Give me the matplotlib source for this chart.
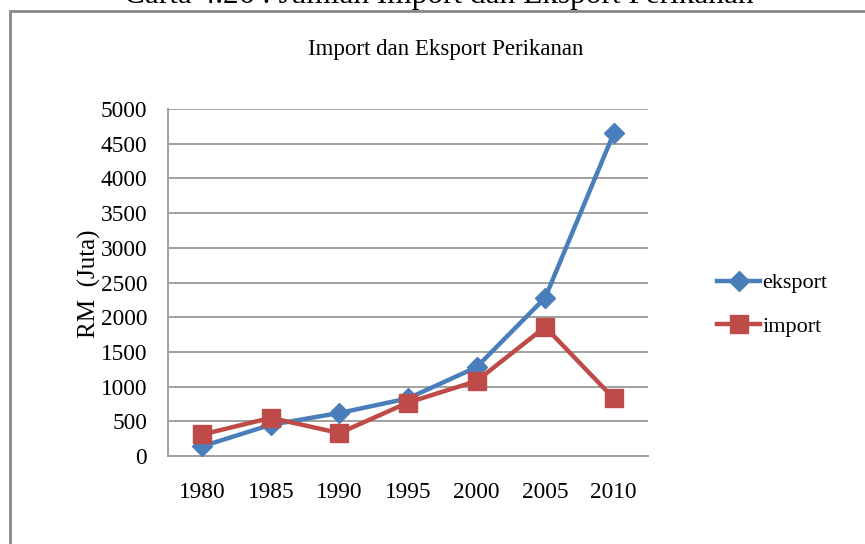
import matplotlib
matplotlib.use("Agg")
import matplotlib.pyplot as plt
from matplotlib.patches import Rectangle

years = ["1980", "1985", "1990", "1995", "2000", "2005", "2010"]
eksport = [140, 450, 620, 830, 1280, 2280, 4650]
import_ = [310, 550, 330, 770, 1080, 1860, 830]
yticks = [0, 500, 1000, 1500, 2000, 2500, 3000, 3500, 4000, 4500, 5000]

plt.rcParams['font.family'] = ['Liberation Serif', 'DejaVu Serif']

W, H = 865, 544
fig = plt.figure(figsize=(W / 100, H / 100), dpi=100)
fig.patch.set_facecolor('white')

# outer frame
fig.patches.append(Rectangle((10 / W, -0.2), 1.5, 1.2 - 11 / H,
                             transform=fig.transFigure, fill=False,
                             edgecolor='#888888', linewidth=2.0))

# cut-off caption at the very top
fig.text(439 / W, 1 - 3 / H, "Carta 4.26 : Jumlah Import dan Eksport Perikanan",
         ha='center', va='baseline', fontsize=22.5, color='black')

ax = fig.add_axes([168 / W, 1 - 456 / H, (648 - 168) / W, (456 - 109) / H])
x = list(range(len(years)))
ax.plot(x, eksport, color='#4A7EBB', linewidth=3.2, marker='D',
        markersize=10, label='eksport', zorder=3)
ax.plot(x, import_, color='#BE4B48', linewidth=3.2, marker='s',
        markersize=12.5, label='import', zorder=4)

ax.set_xlim(-0.5, len(years) - 0.5)
ax.set_ylim(0, 5000)
ax.set_yticks(yticks)
ax.set_yticklabels([str(v) for v in yticks])
ax.set_xticks(x)
ax.set_xticklabels(years)
ax.tick_params(axis='both', length=0, labelsize=16.8)
ax.tick_params(axis='x', pad=19)
ax.tick_params(axis='y', pad=15)
ax.grid(axis='y', color='#A0A0A0', linewidth=1.4)
ax.set_axisbelow(True)
for s in ['top', 'right']:
    ax.spines[s].set_visible(False)
for s in ['left', 'bottom']:
    ax.spines[s].set_color('#A0A0A0')
    ax.spines[s].set_linewidth(1.4)

ax.set_ylabel("RM  (Juta)", fontsize=18)
ax.yaxis.set_label_coords(89 / W, 1 - 284 / H, transform=fig.transFigure)
ax.yaxis.label.set_va('center')
fig.text(446 / W, 1 - 49 / H, "Import dan Eksport Perikanan",
         ha='center', va='center', fontsize=16.5)

leg = ax.legend(loc='center left', bbox_to_anchor=(697 / W, 1 - 305 / H),
                bbox_transform=fig.transFigure, frameon=False, fontsize=16,
                handlelength=1.95, handletextpad=0.1, labelspacing=1.05)

fig.savefig("out.png", dpi=100)
